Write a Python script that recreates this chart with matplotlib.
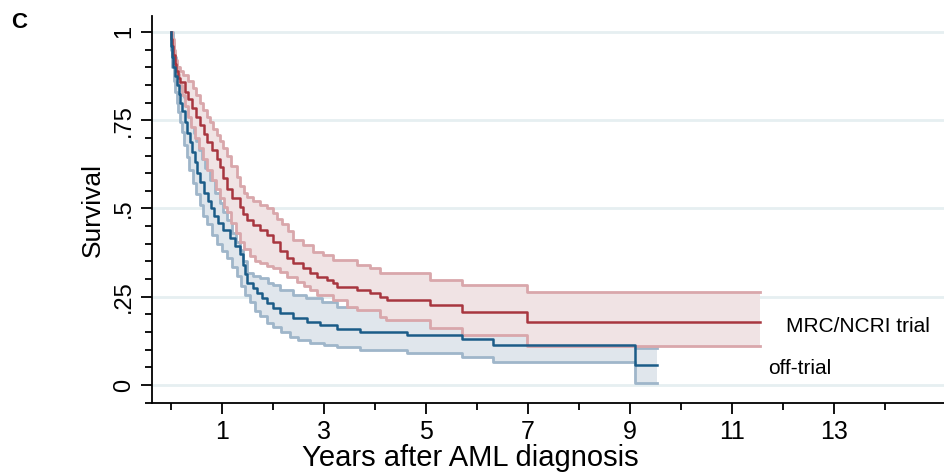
import numpy as np
import matplotlib
matplotlib.use("Agg")
import matplotlib.pyplot as plt
from matplotlib.ticker import MultipleLocator, FixedLocator

plt.rcParams['font.family'] = ['Liberation Sans', 'DejaVu Sans']

# ---- data (years, survival) ----
trial_t = [0, 0.01, 0.02, 0.04, 0.07, 0.1, 0.14, 0.18, 0.27, 0.34, 0.41, 0.49, 0.57, 0.64, 0.71, 0.8, 0.9,
           0.96, 1.03, 1.1, 1.2, 1.35, 1.42, 1.49, 1.6, 1.75, 1.88, 2.0, 2.14, 2.27, 2.39, 2.59, 2.73, 2.86,
           3.06, 3.18, 3.25, 3.65, 3.9, 4.1, 4.24, 5.08, 5.7, 6.98, 11.55]
trial_s = [1.0, 0.98, 0.96, 0.935, 0.91, 0.89, 0.87, 0.858, 0.83, 0.81, 0.785, 0.76, 0.737, 0.71, 0.688, 0.665, 0.64,
           0.618, 0.585, 0.555, 0.53, 0.504, 0.485, 0.467, 0.452, 0.439, 0.425, 0.405, 0.38, 0.36, 0.346, 0.33, 0.317, 0.306,
           0.297, 0.289, 0.278, 0.269, 0.26, 0.249, 0.241, 0.227, 0.207, 0.178, 0.178]

trial_hi_t = [0, 0.02, 0.05, 0.08, 0.12, 0.18, 0.24, 0.33, 0.43, 0.5, 0.57, 0.63, 0.7, 0.76, 0.83, 0.9, 0.96,
              1.02, 1.1, 1.18, 1.29, 1.36, 1.43, 1.49, 1.6, 1.75, 1.88, 2.0, 2.08, 2.18, 2.3, 2.39, 2.59, 2.78,
              2.98, 3.18, 3.65, 3.9, 4.1, 5.08, 5.7, 6.98, 11.55]
trial_hi_s = [1.0, 0.98, 0.95, 0.92, 0.9, 0.89, 0.878, 0.86, 0.841, 0.82, 0.80, 0.78, 0.76, 0.745, 0.725, 0.708, 0.69,
              0.671, 0.65, 0.62, 0.589, 0.565, 0.545, 0.533, 0.52, 0.51, 0.5, 0.487, 0.47, 0.455, 0.435, 0.41, 0.397, 0.377,
              0.368, 0.354, 0.34, 0.331, 0.317, 0.297, 0.283, 0.263, 0.263]

trial_lo_t = [0, 0.02, 0.05, 0.08, 0.12, 0.16, 0.21, 0.27, 0.33, 0.4, 0.47, 0.55, 0.63, 0.71, 0.8, 0.88, 0.96,
              1.04, 1.1, 1.18, 1.27, 1.35, 1.43, 1.55, 1.65, 1.75, 1.88, 2.0, 2.14, 2.27, 2.47, 2.6, 2.73, 2.86,
              3.18, 3.45, 3.65, 4.1, 4.22, 5.08, 5.7, 6.98, 11.55]
trial_lo_s = [1.0, 0.97, 0.94, 0.91, 0.88, 0.85, 0.82, 0.79, 0.76, 0.73, 0.70, 0.67, 0.64, 0.61, 0.58, 0.555, 0.53,
              0.505, 0.49, 0.46, 0.43, 0.405, 0.385, 0.365, 0.35, 0.345, 0.337, 0.33, 0.32, 0.306, 0.292, 0.28, 0.269, 0.255,
              0.241, 0.221, 0.212, 0.193, 0.184, 0.161, 0.142, 0.11, 0.11]

off_t = [0, 0.01, 0.02, 0.04, 0.08, 0.12, 0.15, 0.18, 0.22, 0.27, 0.32, 0.37, 0.42, 0.47, 0.52, 0.57, 0.65,
         0.72, 0.78, 0.85, 0.93, 1.03, 1.16, 1.26, 1.35, 1.41, 1.45, 1.49, 1.6, 1.69, 1.78, 1.88, 2.0, 2.14,
         2.39, 2.67, 2.92, 3.25, 3.7, 4.63, 5.7, 6.31, 9.1, 9.53]
off_s = [1.0, 0.96, 0.93, 0.9, 0.875, 0.85, 0.825, 0.80, 0.775, 0.745, 0.715, 0.688, 0.66, 0.632, 0.6, 0.575, 0.545,
         0.52, 0.5, 0.48, 0.46, 0.44, 0.415, 0.395, 0.37, 0.34, 0.315, 0.289, 0.275, 0.261, 0.245, 0.232, 0.218, 0.204,
         0.19, 0.178, 0.17, 0.159, 0.15, 0.142, 0.13, 0.113, 0.057, 0.057]

off_hi_t = [0, 0.03, 0.06, 0.1, 0.15, 0.2, 0.25, 0.3, 0.35, 0.4, 0.45, 0.5, 0.55, 0.6, 0.67, 0.76, 0.86, 0.96,
            1.03, 1.1, 1.2, 1.28, 1.35, 1.42, 1.49, 1.6, 1.75, 1.9, 2.0, 2.14, 2.39, 2.65, 2.96, 3.25, 4.1,
            5.08, 5.7, 6.98, 9.1, 9.53]
off_hi_s = [1.0, 0.96, 0.93, 0.9, 0.87, 0.84, 0.815, 0.79, 0.765, 0.74, 0.715, 0.69, 0.665, 0.64, 0.615, 0.58, 0.545, 0.515,
            0.49, 0.467, 0.43, 0.405, 0.382, 0.35, 0.317, 0.31, 0.303, 0.29, 0.282, 0.269, 0.255, 0.246, 0.235, 0.221, 0.204,
            0.19, 0.17, 0.16, 0.105, 0.105]

off_lo_t = [0, 0.01, 0.02, 0.05, 0.08, 0.11, 0.14, 0.18, 0.22, 0.26, 0.31, 0.36, 0.43, 0.5, 0.56, 0.63, 0.71,
            0.8, 0.9, 1.0, 1.1, 1.2, 1.3, 1.38, 1.45, 1.55, 1.65, 1.75, 1.88, 2.0, 2.15, 2.33, 2.5, 2.73, 3.0,
            3.25, 3.7, 4.63, 5.7, 6.31, 9.1, 9.53]
off_lo_s = [1.0, 0.95, 0.9, 0.86, 0.83, 0.80, 0.773, 0.745, 0.717, 0.68, 0.645, 0.61, 0.572, 0.54, 0.51, 0.48, 0.455,
            0.425, 0.4, 0.38, 0.36, 0.335, 0.31, 0.28, 0.255, 0.235, 0.21, 0.195, 0.175, 0.164, 0.15, 0.136, 0.127, 0.119, 0.113,
            0.108, 0.099, 0.091, 0.079, 0.065, 0.006, 0.006]

group_labels = ["MRC/NCRI trial", "off-trial"]
x_major = [1, 3, 5, 7, 9, 11, 13]
x_minor = [0, 2, 4, 6, 8, 10, 12, 14]
y_major = [0, 0.25, 0.5, 0.75, 1]
y_major_labels = ["0", ".25", ".5", ".75", "1"]

RED = "#a8363f"
RED_PALE = "#d9a7ab"
RED_FILL = "#f0e3e4"
BLUE = "#1b5c88"
BLUE_PALE = "#9fb6ca"
BLUE_FILL = "#e0e6ec"


def step_eval(t, s, grid):
    t = np.asarray(t); s = np.asarray(s)
    idx = np.searchsorted(t, grid, side='right') - 1
    idx = np.clip(idx, 0, len(s) - 1)
    return s[idx]


def band(ax, lt, ls_, ht, hs, fillc, palec, z):
    grid = np.union1d(lt, ht)
    lo = step_eval(lt, ls_, grid)
    hi = step_eval(ht, hs, grid)
    ax.fill_between(grid, lo, hi, step='post', color=fillc, lw=0, zorder=z)
    ax.step(lt, ls_, where='post', color=palec, lw=2.0, zorder=z + 0.1)
    ax.step(ht, hs, where='post', color=palec, lw=2.0, zorder=z + 0.1)


fig = plt.figure(figsize=(9.45, 4.72), dpi=100)
ax = fig.add_axes([0.1608, 0.1462, 0.8392, 0.8198])

for yv in y_major:
    ax.axhline(yv, color="#e6eff1", lw=2.0, zorder=0)

band(ax, off_lo_t, off_lo_s, off_hi_t, off_hi_s, BLUE_FILL, BLUE_PALE, 1)
band(ax, trial_lo_t, trial_lo_s, trial_hi_t, trial_hi_s, RED_FILL, RED_PALE, 2)

ax.step(trial_t, trial_s, where='post', color=RED, lw=1.8, zorder=4)
ax.step(off_t, off_s, where='post', color=BLUE, lw=1.8, zorder=4)

ax.text(12.07, 0.167, group_labels[0], fontsize=15, va='center', ha='left')
ax.text(11.72, 0.046, group_labels[1], fontsize=15, va='center', ha='left')

ax.set_xlim(-0.373, 15.18)
ax.set_ylim(-0.051, 1.045)

ax.spines['top'].set_visible(False)
ax.spines['right'].set_visible(False)
for sp in ['left', 'bottom']:
    ax.spines[sp].set_linewidth(1.3)

ax.xaxis.set_major_locator(FixedLocator(x_major))
ax.xaxis.set_minor_locator(FixedLocator(x_minor))
ax.set_xticklabels([str(v) for v in x_major])
ax.yaxis.set_major_locator(FixedLocator(y_major))
ax.yaxis.set_minor_locator(MultipleLocator(0.05))
ax.set_yticklabels(y_major_labels, rotation=90, va='center')

ax.tick_params(axis='both', which='major', length=8, width=1.3, direction='out', pad=4)
ax.tick_params(axis='both', which='minor', length=5, width=1.3, direction='out')
ax.tick_params(axis='x', which='major', labelsize=18)
ax.tick_params(axis='y', which='major', labelsize=17)

fig.text(470 / 945, (472 - 466) / 472, "Years after AML diagnosis", fontsize=21, ha='center', va='baseline')
ax.set_ylabel("Survival", fontsize=19, labelpad=6)

fig.text(0.012, 0.953, "C", fontsize=16, fontweight='bold', va='center', ha='left')

fig.savefig("out.png", dpi=100)
